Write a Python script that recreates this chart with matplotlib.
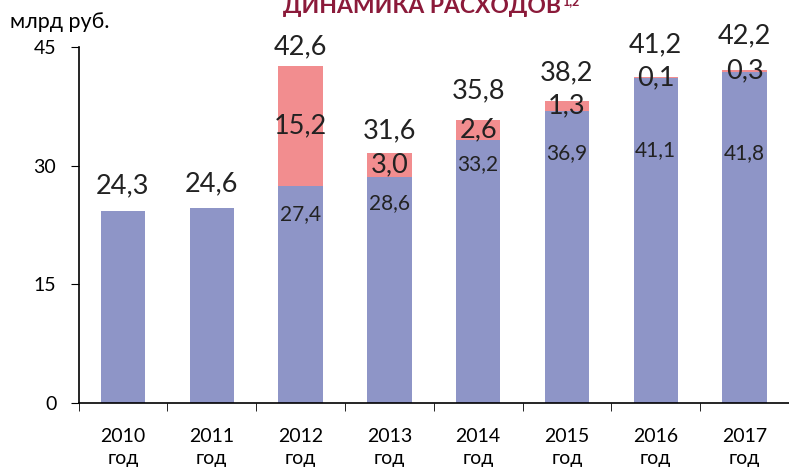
import numpy as np
import matplotlib.pyplot as plt

plt.rcParams['font.family'] = ['Lato', 'DejaVu Sans']

years = ['2010', '2011', '2012', '2013', '2014', '2015', '2016', '2017']
base = [24.3, 24.6, 27.4, 28.6, 33.2, 36.9, 41.1, 41.8]
extra = [0, 0, 15.2, 3.0, 2.6, 1.3, 0.1, 0.3]
totals = [24.3, 24.6, 42.6, 31.6, 35.8, 38.2, 41.2, 42.2]

# label shifts in points (hand placed like in the original)
total_lab_shift = [9, 9, 5, 7, 12, 11, 14, 15]
base_lab_shift = [0, 0, -20, -19, -17, -30, -52, -58]

blue = '#8e95c7'
pink = '#f28d8f'

fig = plt.figure(figsize=(7.89, 4.70), dpi=100)
ax = fig.add_axes([0.0995, 0.1426, 0.9005, 0.757])

x = np.arange(len(years))
ax.bar(x, base, width=0.5, color=blue, zorder=2)
ax.bar(x, extra, width=0.5, bottom=base, color=pink, zorder=2)

for i in range(len(years)):
    ax.annotate(f'{totals[i]:.1f}'.replace('.', ','), (x[i], totals[i]),
                xytext=(0, total_lab_shift[i]), textcoords='offset points',
                ha='center', va='bottom', fontsize=19.5, color='#222222')
    if extra[i] > 0:
        ax.text(x[i], base[i] + extra[i] / 2, f'{extra[i]:.1f}'.replace('.', ','),
                ha='center', va='center', fontsize=19.5, color='#222222', zorder=3)
        ax.annotate(f'{base[i]:.1f}'.replace('.', ','), (x[i], base[i]),
                    xytext=(0, base_lab_shift[i]), textcoords='offset points',
                    ha='center', va='center', fontsize=15, color='#222222', zorder=3)

ax.set_xlim(-0.5, 7.5)
ax.set_ylim(0, 45)
ax.set_yticks([0, 15, 30, 45])
ax.tick_params(axis='y', labelsize=14, length=6, pad=10)
ax.set_xticks(x)
ax.set_xticklabels([y + '\nгод' for y in years], fontsize=14, linespacing=1.35)
ax.tick_params(axis='x', which='major', length=0, pad=18)
ax.set_xticks(np.arange(-0.5, 8, 1), minor=True)
ax.tick_params(axis='x', which='minor', length=6, direction='out')

for s in ['top', 'right']:
    ax.spines[s].set_visible(False)
ax.spines['left'].set_linewidth(1.2)
ax.spines['bottom'].set_linewidth(1.2)

fig.text(0.013, 0.953, 'млрд руб.', fontsize=15.5, ha='left', va='center')
fig.text(0.535, 0.986, 'ДИНАМИКА РАСХОДОВ', fontsize=16.5, fontweight='bold',
         color='#8b1a3a', ha='center', va='center')
fig.text(0.713, 0.985, '1,2', fontsize=9, fontweight='bold',
         color='#8b1a3a', ha='left', va='bottom')

fig.savefig('out.png', dpi=100)
